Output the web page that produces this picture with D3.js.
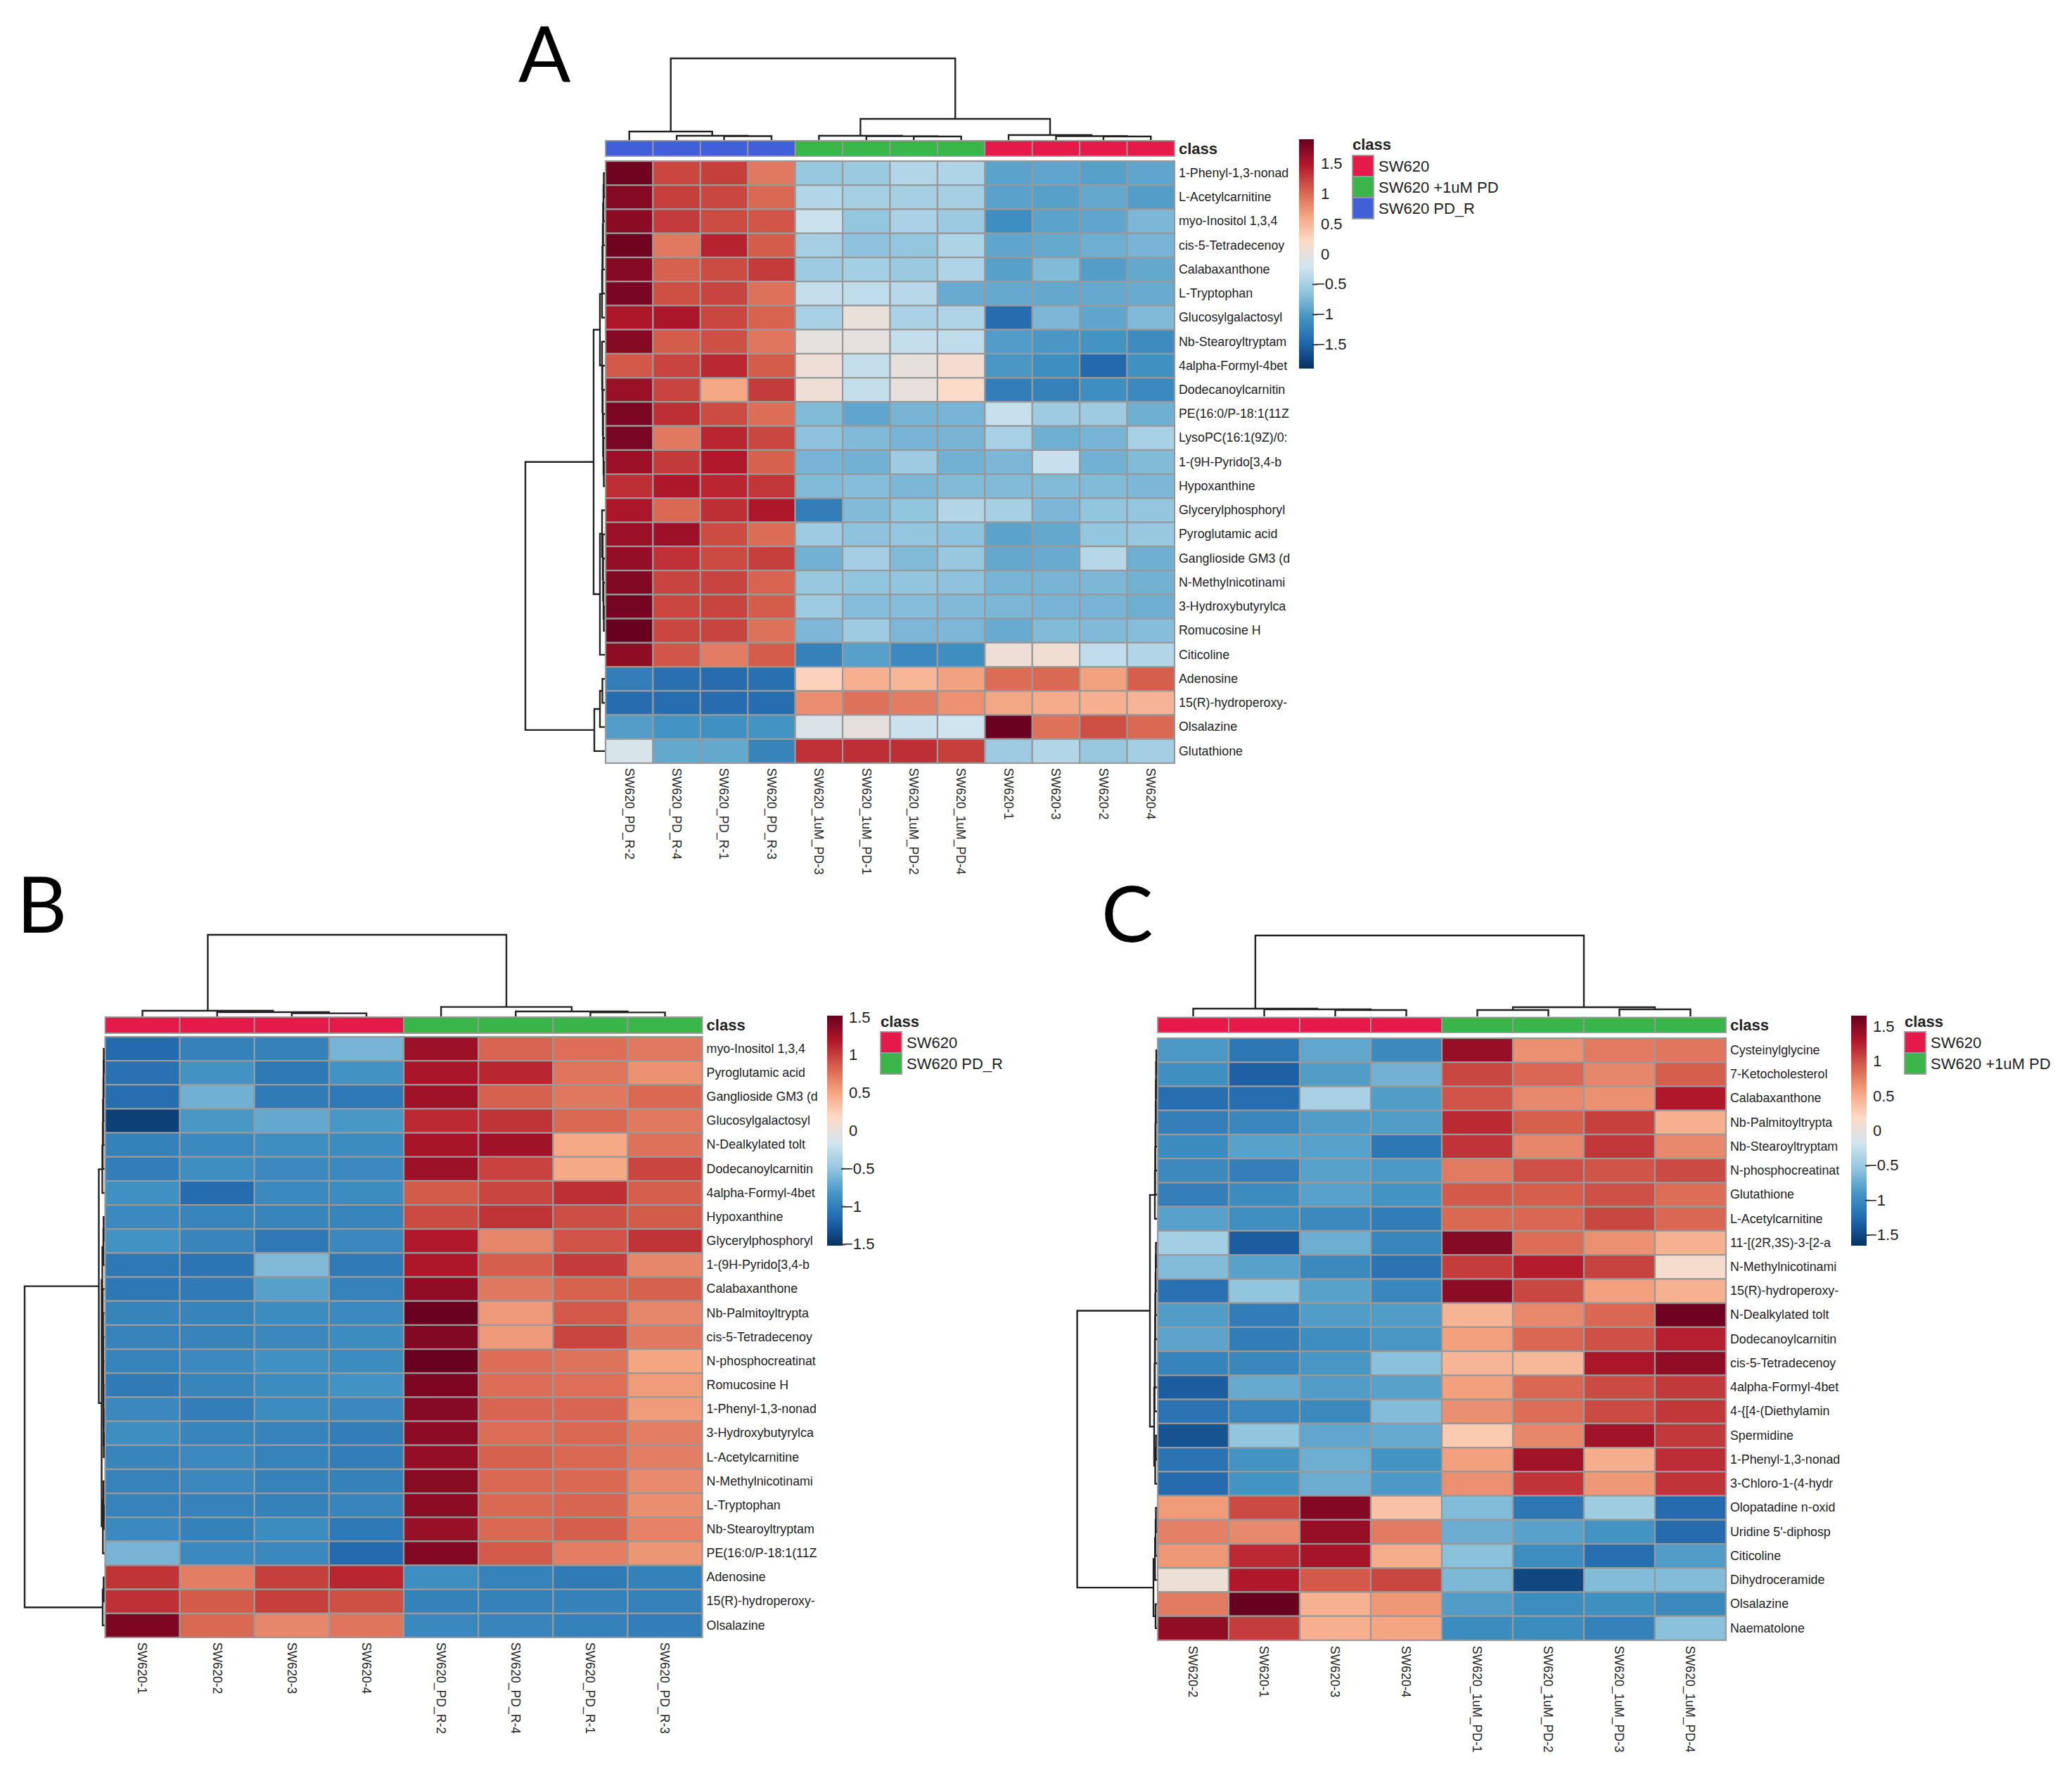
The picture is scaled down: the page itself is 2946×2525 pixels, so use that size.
<!DOCTYPE html>
<html>
<head>
<meta charset="utf-8">
<script src="https://d3js.org/d3.v7.min.js"></script>
<style>
body { margin: 0; background: #fff; }
text { font-family: "Liberation Sans", Arial, sans-serif; fill: #222; }
</style>
</head>
<body>
<div id="chart"></div>
<script>
// brewer RdBu, 10 classes, no white middle
const heatColors = ['#053061','#2166AC','#4393C3','#92C5DE','#D1E5F0','#FDDBC7','#F4A582','#D6604D','#B2182B','#67001F'];
// colours go by legend order inside each panel
const classColors = ['#E6194B','#39B54A','#4160D8'];
const legendTicks = [-1.5,-1,-0.5,0,0.5,1,1.5];

// --- panel A ---
const colsA = ['SW620_PD_R-2','SW620_PD_R-4','SW620_PD_R-1','SW620_PD_R-3','SW620_1uM_PD-3','SW620_1uM_PD-1','SW620_1uM_PD-2','SW620_1uM_PD-4','SW620-1','SW620-3','SW620-2','SW620-4'];
const classA = ['SW620 PD_R','SW620 PD_R','SW620 PD_R','SW620 PD_R','SW620 +1uM PD','SW620 +1uM PD','SW620 +1uM PD','SW620 +1uM PD','SW620','SW620','SW620','SW620'];
const legendA = ['SW620','SW620 +1uM PD','SW620 PD_R'];
const rowsA = ['1-Phenyl-1,3-nonad','L-Acetylcarnitine','myo-Inositol 1,3,4','cis-5-Tetradecenoy','Calabaxanthone','L-Tryptophan','Glucosylgalactosyl','Nb-Stearoyltryptam','4alpha-Formyl-4bet','Dodecanoylcarnitin','PE(16:0/P-18:1(11Z','LysoPC(16:1(9Z)/0:','1-(9H-Pyrido[3,4-b','Hypoxanthine','Glycerylphosphoryl','Pyroglutamic acid','Ganglioside GM3 (d','N-Methylnicotinami','3-Hydroxybutyrylca','Romucosine H','Citicoline','Adenosine','15(R)-hydroperoxy-','Olsalazine','Glutathione'];
const valuesA = [
  [1.85,1.2,1.25,0.9,-0.6,-0.58,-0.42,-0.43,-0.92,-0.9,-0.95,-0.9],
  [1.72,1.25,1.2,1.0,-0.42,-0.5,-0.5,-0.5,-0.93,-0.95,-0.88,-0.97],
  [1.7,1.27,1.17,1.12,-0.25,-0.62,-0.47,-0.57,-1.1,-0.92,-0.9,-0.75],
  [1.85,0.9,1.42,1.08,-0.5,-0.65,-0.62,-0.45,-0.9,-0.87,-0.83,-0.78],
  [1.72,1.05,1.17,1.27,-0.55,-0.52,-0.58,-0.43,-0.95,-0.72,-0.97,-0.88],
  [1.8,1.15,1.22,0.95,-0.3,-0.33,-0.38,-0.85,-0.87,-0.88,-0.87,-0.85],
  [1.5,1.52,1.2,1.03,-0.48,0.02,-0.47,-0.43,-1.42,-0.75,-0.9,-0.73],
  [1.72,1.08,1.15,0.92,-0.03,-0.03,-0.3,-0.33,-0.98,-1.02,-1.05,-1.12],
  [1.1,1.22,1.38,1.08,0.07,-0.3,-0.01,0.12,-1.02,-1.1,-1.45,-1.08],
  [1.62,1.22,0.62,1.27,0.07,-0.3,0,0.2,-1.25,-1.22,-1.1,-1.15],
  [1.78,1.35,1.17,0.97,-0.72,-0.9,-0.77,-0.78,-0.28,-0.55,-0.55,-0.82],
  [1.8,0.9,1.4,1.2,-0.65,-0.73,-0.78,-0.77,-0.48,-0.82,-0.78,-0.48],
  [1.6,1.28,1.48,1.05,-0.78,-0.8,-0.55,-0.8,-0.75,-0.28,-0.8,-0.72],
  [1.35,1.5,1.4,1.3,-0.72,-0.7,-0.75,-0.72,-0.72,-0.72,-0.72,-0.75],
  [1.52,1.0,1.35,1.5,-1.25,-0.72,-0.63,-0.42,-0.5,-0.75,-0.63,-0.62],
  [1.62,1.6,1.17,0.98,-0.55,-0.65,-0.62,-0.65,-0.92,-0.88,-0.62,-0.6],
  [1.65,1.33,1.18,1.25,-0.8,-0.52,-0.72,-0.6,-0.88,-0.85,-0.4,-0.82],
  [1.75,1.22,1.22,1.03,-0.6,-0.63,-0.63,-0.65,-0.78,-0.78,-0.75,-0.8],
  [1.82,1.2,1.22,1.08,-0.55,-0.7,-0.7,-0.73,-0.75,-0.78,-0.78,-0.83],
  [1.9,1.2,1.22,0.95,-0.75,-0.55,-0.75,-0.75,-0.85,-0.72,-0.73,-0.7],
  [1.68,1.12,0.88,1.08,-1.22,-0.95,-1.15,-1.1,0.07,0.1,-0.32,-0.42],
  [-1.25,-1.38,-1.42,-1.38,0.28,0.55,0.5,0.65,0.98,1.0,0.65,1.07],
  [-1.42,-1.4,-1.42,-1.4,0.78,0.95,0.88,0.75,0.62,0.58,0.55,0.52],
  [-0.97,-1.05,-1.08,-1.05,-0.12,-0.02,-0.25,-0.22,1.88,0.95,1.15,1.0],
  [-0.15,-0.88,-0.88,-1.2,1.33,1.35,1.35,1.25,-0.55,-0.42,-0.6,-0.52]
];
// dendrograms use the hclust merge format: negative = leaf, positive = earlier merge (1 based), then height
const colMergeA = [[-3,-4,5.5],[-2,1,6],[-1,2,12],[-7,-8,5],[-6,4,5.4],[-5,5,6],[-11,-12,5],[-10,7,5.5],[-9,8,7],[6,9,30],[3,10,116]];
const rowMergeA = [[-1,-2,1.5],[1,-3,2],[2,-4,2.5],[3,-5,3],[4,-6,3.5],[5,-7,4],
  [-13,-14,1.5],[-12,7,2],[-11,8,2.5],[-10,9,3],[-9,10,3.5],[-8,11,4],[6,12,7],
  [-19,-20,1.5],[-18,14,2],[-17,15,2.5],[-16,16,3],[-15,17,4],[18,-21,7],[13,19,16],
  [-22,-23,3.5],[21,-24,7],[22,-25,15],[20,23,113]];

// --- panel B ---
const colsB = ['SW620-1','SW620-2','SW620-3','SW620-4','SW620_PD_R-2','SW620_PD_R-4','SW620_PD_R-1','SW620_PD_R-3'];
const classB = ['SW620','SW620','SW620','SW620','SW620 PD_R','SW620 PD_R','SW620 PD_R','SW620 PD_R'];
const legendB = ['SW620','SW620 PD_R'];
const rowsB = ['myo-Inositol 1,3,4','Pyroglutamic acid','Ganglioside GM3 (d','Glucosylgalactosyl','N-Dealkylated tolt','Dodecanoylcarnitin','4alpha-Formyl-4bet','Hypoxanthine','Glycerylphosphoryl','1-(9H-Pyrido[3,4-b','Calabaxanthone','Nb-Palmitoyltrypta','cis-5-Tetradecenoy','N-phosphocreatinat','Romucosine H','1-Phenyl-1,3-nonad','3-Hydroxybutyrylca','L-Acetylcarnitine','N-Methylnicotinami','L-Tryptophan','Nb-Stearoyltryptam','PE(16:0/P-18:1(11Z','Adenosine','15(R)-hydroperoxy-','Olsalazine'];
const valuesB = [
  [-1.15,-0.98,-0.98,-0.62,1.28,0.82,0.77,0.72],
  [-1.1,-0.85,-1.05,-0.85,1.22,1.12,0.74,0.6],
  [-1.12,-0.65,-1.03,-1.05,1.27,0.84,0.73,0.8],
  [-1.42,-0.82,-0.7,-0.82,1.1,1.05,0.8,0.72],
  [-0.98,-0.92,-0.88,-0.9,1.23,1.27,0.48,0.76],
  [-1.0,-0.88,-0.92,-0.92,1.28,0.98,0.48,0.97],
  [-0.87,-1.13,-0.92,-0.9,0.87,0.97,1.08,0.85],
  [-0.92,-0.95,-0.95,-0.95,0.95,1.05,0.93,0.87],
  [-0.85,-0.95,-1.05,-0.93,1.18,0.66,0.9,1.05],
  [-1.05,-1.07,-0.58,-1.03,1.2,0.85,1.02,0.66],
  [-1.05,-1.03,-0.76,-0.97,1.33,0.73,0.83,0.84],
  [-0.96,-0.96,-0.9,-0.92,1.5,0.56,0.88,0.66],
  [-0.97,-0.96,-0.93,-0.9,1.4,0.56,0.97,0.72],
  [-0.97,-0.92,-0.87,-0.9,1.5,0.78,0.75,0.5],
  [-1.03,-0.95,-0.9,-0.85,1.42,0.78,0.77,0.55],
  [-0.93,-1.0,-0.9,-0.93,1.38,0.82,0.82,0.55],
  [-0.88,-0.95,-0.97,-1.0,1.35,0.78,0.8,0.7],
  [-0.95,-0.92,-0.97,-1.0,1.32,0.84,0.8,0.7],
  [-0.97,-0.93,-0.97,-0.98,1.37,0.8,0.8,0.64],
  [-0.97,-0.97,-0.98,-0.95,1.35,0.8,0.82,0.62],
  [-0.92,-0.98,-0.9,-1.05,1.3,0.8,0.85,0.68],
  [-0.62,-0.92,-0.93,-1.15,1.4,0.87,0.7,0.58],
  [1.05,0.7,1.0,1.12,-0.88,-0.97,-1.03,-0.98],
  [1.07,0.87,1.0,0.92,-0.98,-0.98,-0.98,-0.98],
  [1.42,0.8,0.66,0.74,-0.93,-0.95,-0.98,-1.0]
];
const colMergeB = [[-3,-4,4.4],[-2,1,6],[-1,2,8],[-7,-8,5.6],[-6,4,7],[-5,5,13.4],[3,6,116]];
const rowMergeB = [[-1,-2,1],[1,-3,1.3],[2,-4,1.6],[3,-5,2],[4,-6,2.4],[5,-7,3],
  [-8,-9,1.2],[7,-10,1.6],
  [-17,-18,1],[-16,9,1.2],[-15,10,1.4],[-14,11,1.6],[-13,12,1.8],[-12,13,2],[-11,14,2.4],[8,15,3],
  [-20,-21,1],[-19,17,1.4],[18,-22,2.2],[16,19,4],[6,20,8],
  [-23,-24,1.2],[22,-25,2.5],[21,23,113.5]];

// --- panel C ---
const colsC = ['SW620-2','SW620-1','SW620-3','SW620-4','SW620_1uM_PD-1','SW620_1uM_PD-2','SW620_1uM_PD-3','SW620_1uM_PD-4'];
const classC = ['SW620','SW620','SW620','SW620','SW620 +1uM PD','SW620 +1uM PD','SW620 +1uM PD','SW620 +1uM PD'];
const legendC = ['SW620','SW620 +1uM PD'];
const rowsC = ['Cysteinylglycine','7-Ketocholesterol','Calabaxanthone','Nb-Palmitoyltrypta','Nb-Stearoyltryptam','N-phosphocreatinat','Glutathione','L-Acetylcarnitine','11-[(2R,3S)-3-[2-a','N-Methylnicotinami','15(R)-hydroperoxy-','N-Dealkylated tolt','Dodecanoylcarnitin','cis-5-Tetradecenoy','4alpha-Formyl-4bet','4-{[4-(Diethylamin','Spermidine','1-Phenyl-1,3-nonad','3-Chloro-1-(4-hydr','Olopatadine n-oxid',"Uridine 5'-diphosp",'Citicoline','Dihydroceramide','Olsalazine','Naematolone'];
const valuesC = [
  [-0.88,-1.15,-0.78,-1.0,1.42,0.66,0.78,0.8],
  [-0.95,-1.33,-0.85,-0.7,1.05,0.88,0.72,0.93],
  [-1.22,-1.22,-0.42,-0.85,0.98,0.7,0.66,1.3],
  [-1.08,-1.02,-0.85,-0.85,1.2,0.92,1.08,0.48],
  [-0.98,-0.82,-0.82,-1.15,1.15,0.72,1.13,0.7],
  [-1.0,-1.08,-0.82,-0.88,0.78,1.0,0.98,1.03],
  [-1.08,-0.98,-0.82,-0.92,0.95,0.93,1.0,0.85],
  [-0.82,-0.95,-1.0,-1.1,0.87,0.88,1.05,0.88],
  [-0.45,-1.35,-0.72,-1.03,1.5,0.85,0.66,0.47],
  [-0.62,-0.82,-1.0,-1.18,1.1,1.27,1.07,0.12],
  [-1.2,-0.55,-0.82,-1.02,1.47,1.05,0.58,0.47],
  [-0.85,-1.1,-0.85,-0.85,0.45,0.7,0.88,1.62],
  [-0.8,-1.1,-0.97,-0.9,0.58,0.88,1.0,1.25],
  [-1.05,-1.02,-0.9,-0.58,0.44,0.43,1.32,1.45],
  [-1.35,-0.75,-0.85,-0.82,0.58,0.88,1.03,1.12],
  [-1.18,-1.02,-1.0,-0.62,0.67,0.85,1.03,1.13],
  [-1.42,-0.55,-0.78,-0.75,0.3,0.72,1.37,1.12],
  [-1.18,-0.92,-0.72,-0.92,0.58,1.37,0.5,1.18],
  [-1.25,-0.92,-0.73,-0.88,0.66,1.15,0.62,1.15],
  [0.6,1.03,1.52,0.36,-0.62,-1.15,-0.47,-1.25],
  [0.75,0.7,1.42,0.78,-0.73,-0.82,-0.92,-1.25],
  [0.62,1.2,1.35,0.5,-0.58,-0.97,-1.22,-0.85],
  [0.05,1.3,0.95,1.05,-0.65,-1.5,-0.62,-0.62],
  [0.78,1.65,0.47,0.62,-0.85,-0.97,-0.95,-1.0],
  [1.45,1.1,0.48,0.55,-0.98,-0.98,-1.07,-0.58]
];
const colMergeC = [[-3,-4,9],[-2,1,10],[-1,2,11],[-5,-6,9],[-7,-8,10],[4,5,13],[3,6,115]];
const rowMergeC = [[-1,-2,1],[1,-3,1.3],[2,-4,1.6],[3,-5,1.9],[4,-6,2.2],[5,-7,2.5],[6,-8,3],
  [-9,-10,1.5],[8,-11,1.8],[9,-12,2.1],[10,-13,2.4],[11,-14,2.7],[12,-15,3],[13,-16,3.3],
  [-17,-18,1.5],[15,-19,2.5],[14,16,4],[7,17,10],
  [-20,-21,1.5],[19,-22,2],[20,-23,2.8],[-24,-25,2],[21,22,5],[18,23,113.4]];

const GRID = '#999';
const width = 2946, height = 2525;
const svg = d3.select('#chart').append('svg')
  .attr('width', width).attr('height', height)
  .style('display', 'block');
const defs = svg.append('defs');

function drawTree(group, merges, leafScale, heightScale, vertical) {
  // vertical = tree sits on top of the columns, otherwise left of the rows
  let nodes = [];
  let place = function(id) {
    if (id < 0) {
      let name = leafScale.domain()[-id - 1];
      return { pos: leafScale(name) + leafScale.bandwidth() / 2, h: 0 };
    }
    return nodes[id - 1];
  };
  merges.forEach(m => {
    let a = place(m[0]), b = place(m[1]);
    let p = d3.path();
    if (vertical) {
      p.moveTo(a.pos, heightScale(a.h));
      p.lineTo(a.pos, heightScale(m[2]));
      p.lineTo(b.pos, heightScale(m[2]));
      p.lineTo(b.pos, heightScale(b.h));
    } else {
      p.moveTo(heightScale(a.h), a.pos);
      p.lineTo(heightScale(m[2]), a.pos);
      p.lineTo(heightScale(m[2]), b.pos);
      p.lineTo(heightScale(b.h), b.pos);
    }
    group.append('path')
      .attr('d', p.toString())
      .attr('fill', 'none')
      .attr('stroke', '#222')
      .attr('stroke-width', 2.4);
    nodes.push({ pos: (a.pos + b.pos) / 2, h: m[2] });
  });
}

function drawPanel(p) {
  let g = svg.append('g');
  let x = d3.scaleBand().domain(p.cols).range([p.left, p.right]);
  let y = d3.scaleBand().domain(p.rows).range([p.top, p.bottom]);
  let domain = d3.range(heatColors.length).map(i => -p.maxValue + i * 2 * p.maxValue / (heatColors.length - 1));
  let color = d3.scaleLinear().domain(domain).range(heatColors).clamp(true);
  let classColor = d3.scaleOrdinal().domain(p.legendClasses).range(classColors);

  // cells
  p.rows.forEach((rowName, r) => {
    g.append('g').selectAll('rect')
      .data(p.values[r])
      .enter().append('rect')
      .attr('x', (d, i) => x(p.cols[i]))
      .attr('y', y(rowName))
      .attr('width', x.bandwidth())
      .attr('height', y.bandwidth())
      .attr('fill', d => color(d))
      .attr('stroke', GRID)
      .attr('stroke-width', 2.2);
  });

  // class bar
  g.append('g').selectAll('rect')
    .data(p.classes)
    .enter().append('rect')
    .attr('x', (d, i) => x(p.cols[i]))
    .attr('y', p.barTop)
    .attr('width', x.bandwidth())
    .attr('height', p.barBottom - p.barTop)
    .attr('fill', d => classColor(d))
    .attr('stroke', GRID)
    .attr('stroke-width', 1.8);
  g.append('text')
    .attr('x', p.right + 6)
    .attr('y', (p.barTop + p.barBottom) / 2)
    .attr('dy', '.35em')
    .attr('font-size', 22)
    .attr('font-weight', 'bold')
    .text('class');

  // row and column labels
  let rowAxis = g.append('g')
    .attr('transform', 'translate(' + p.right + ',0)')
    .call(d3.axisRight(y).tickSize(0).tickPadding(6));
  rowAxis.select('.domain').remove();
  rowAxis.selectAll('text').attr('font-size', 17.8).style('font-family', '"Liberation Sans"').attr('fill', '#333');

  let colAxis = g.append('g')
    .attr('transform', 'translate(0,' + p.bottom + ')')
    .call(d3.axisBottom(x).tickSize(0));
  colAxis.select('.domain').remove();
  colAxis.selectAll('text')
    .attr('font-size', 17.6)
    .attr('fill', '#333')
    .attr('text-anchor', 'start')
    .attr('transform', 'rotate(90)')
    .attr('x', p.colLabelGap)
    .attr('y', 0)
    .attr('dy', '.35em')
    .style('font-family', '"Liberation Sans"');

  // dendrograms
  let colH = d3.scaleLinear().domain([0, d3.max(p.colMerge, d => d[2])]).range([p.colTreeBase, p.colTreeTop]);
  let rowH = d3.scaleLinear().domain([0, d3.max(p.rowMerge, d => d[2])]).range([p.rowTreeBase, p.rowTreeLeft]);
  drawTree(g.append('g'), p.colMerge, x, colH, true);
  drawTree(g.append('g'), p.rowMerge, y, rowH, false);

  // colour key
  let legendY = d3.scaleLinear().domain([-p.maxValue, p.maxValue]).range([p.keyBottom, p.keyTop]);
  let grad = defs.append('linearGradient')
    .attr('id', 'key' + p.id)
    .attr('x1', 0).attr('x2', 0).attr('y1', 1).attr('y2', 0);
  grad.selectAll('stop')
    .data(heatColors)
    .enter().append('stop')
    .attr('offset', (d, i) => i / (heatColors.length - 1))
    .attr('stop-color', d => d);
  g.append('rect')
    .attr('x', p.keyLeft)
    .attr('y', p.keyTop)
    .attr('width', p.keyRight - p.keyLeft)
    .attr('height', p.keyBottom - p.keyTop)
    .attr('fill', 'url(#key' + p.id + ')');

  let keyAxis = g.append('g')
    .attr('transform', 'translate(' + p.keyRight + ',0)')
    .call(d3.axisRight(legendY).tickValues(legendTicks).tickSize(0).tickPadding(p.keyPad).tickFormat(d => d3.format('')(d).replace('-', '\u2212')));
  keyAxis.select('.domain').remove();
  keyAxis.selectAll('text').attr('font-size', 22).style('font-family', '"Liberation Sans"');
  keyAxis.selectAll('.tick').filter(d => d < 0).each(function() {
    d3.select(this).select('text').attr('x', p.keyPad - 7);
    d3.select(this).select('line').attr('x1', -2).attr('x2', p.keyPad - 5).attr('stroke', '#333').attr('stroke-width', 2);
  });

  // class legend
  g.append('text')
    .attr('x', p.legendX)
    .attr('y', p.legendTitleY)
    .attr('dy', '.35em')
    .attr('font-size', 22)
    .attr('font-weight', 'bold')
    .text('class');
  let shown = p.legendClasses;
  let ly = d3.scaleBand().domain(shown).range([p.legendTop, p.legendTop + shown.length * 30]);
  g.append('g').selectAll('rect')
    .data(shown)
    .enter().append('rect')
    .attr('x', p.legendX)
    .attr('y', d => ly(d))
    .attr('width', 30)
    .attr('height', ly.bandwidth())
    .attr('fill', d => classColor(d))
    .attr('stroke', GRID)
    .attr('stroke-width', 1.8);
  g.append('g').selectAll('text')
    .data(shown)
    .enter().append('text')
    .attr('x', p.legendX + 37)
    .attr('y', d => ly(d) + ly.bandwidth() / 2)
    .attr('dy', '.35em')
    .attr('font-size', 22)
    .text(d => d);

  g.append('text')
    .attr('x', p.letterX)
    .attr('y', p.letterY)
    .attr('font-size', 110)
    .style('font-family', 'Lato')
    .style('fill', '#000')
    .text(p.letter);
}

drawPanel({
  id: 'A', letter: 'A', letterX: 737, letterY: 117,
  cols: colsA, rows: rowsA, values: valuesA, classes: classA, colMerge: colMergeA, rowMerge: rowMergeA,
  left: 861, right: 1670, top: 229, bottom: 1085, barTop: 200, barBottom: 222, colLabelGap: 7,
  maxValue: 1.9, colTreeBase: 199, colTreeTop: 83, rowTreeBase: 860, rowTreeLeft: 747,
  keyLeft: 1847, keyRight: 1868, keyTop: 198, keyBottom: 524, keyPad: 10,
  legendX: 1923, legendTitleY: 205, legendTop: 221, legendClasses: legendA
});
drawPanel({
  id: 'B', letter: 'B', letterX: 24, letterY: 1326,
  cols: colsB, rows: rowsB, values: valuesB, classes: classB, colMerge: colMergeB, rowMerge: rowMergeB,
  left: 149.5, right: 998.6, top: 1474, bottom: 2328, barTop: 1446, barBottom: 1469, colLabelGap: 7,
  maxValue: 1.52, colTreeBase: 1445, colTreeTop: 1329, rowTreeBase: 148.5, rowTreeLeft: 35,
  keyLeft: 1176, keyRight: 1198, keyTop: 1444, keyBottom: 1771, keyPad: 9,
  legendX: 1252, legendTitleY: 1452, legendTop: 1467, legendClasses: legendB
});
drawPanel({
  id: 'C', letter: 'C', letterX: 1566, letterY: 1339,
  cols: colsC, rows: rowsC, values: valuesC, classes: classC, colMerge: colMergeC, rowMerge: rowMergeC,
  left: 1646, right: 2454, top: 1476, bottom: 2332, barTop: 1446.5, barBottom: 1468, colLabelGap: 8,
  maxValue: 1.656, colTreeBase: 1445, colTreeTop: 1330, rowTreeBase: 1645, rowTreeLeft: 1531.6,
  keyLeft: 2632, keyRight: 2654, keyTop: 1444, keyBottom: 1771, keyPad: 9,
  legendX: 2708, legendTitleY: 1452, legendTop: 1467, legendClasses: legendC
});
</script>
</body>
</html>
